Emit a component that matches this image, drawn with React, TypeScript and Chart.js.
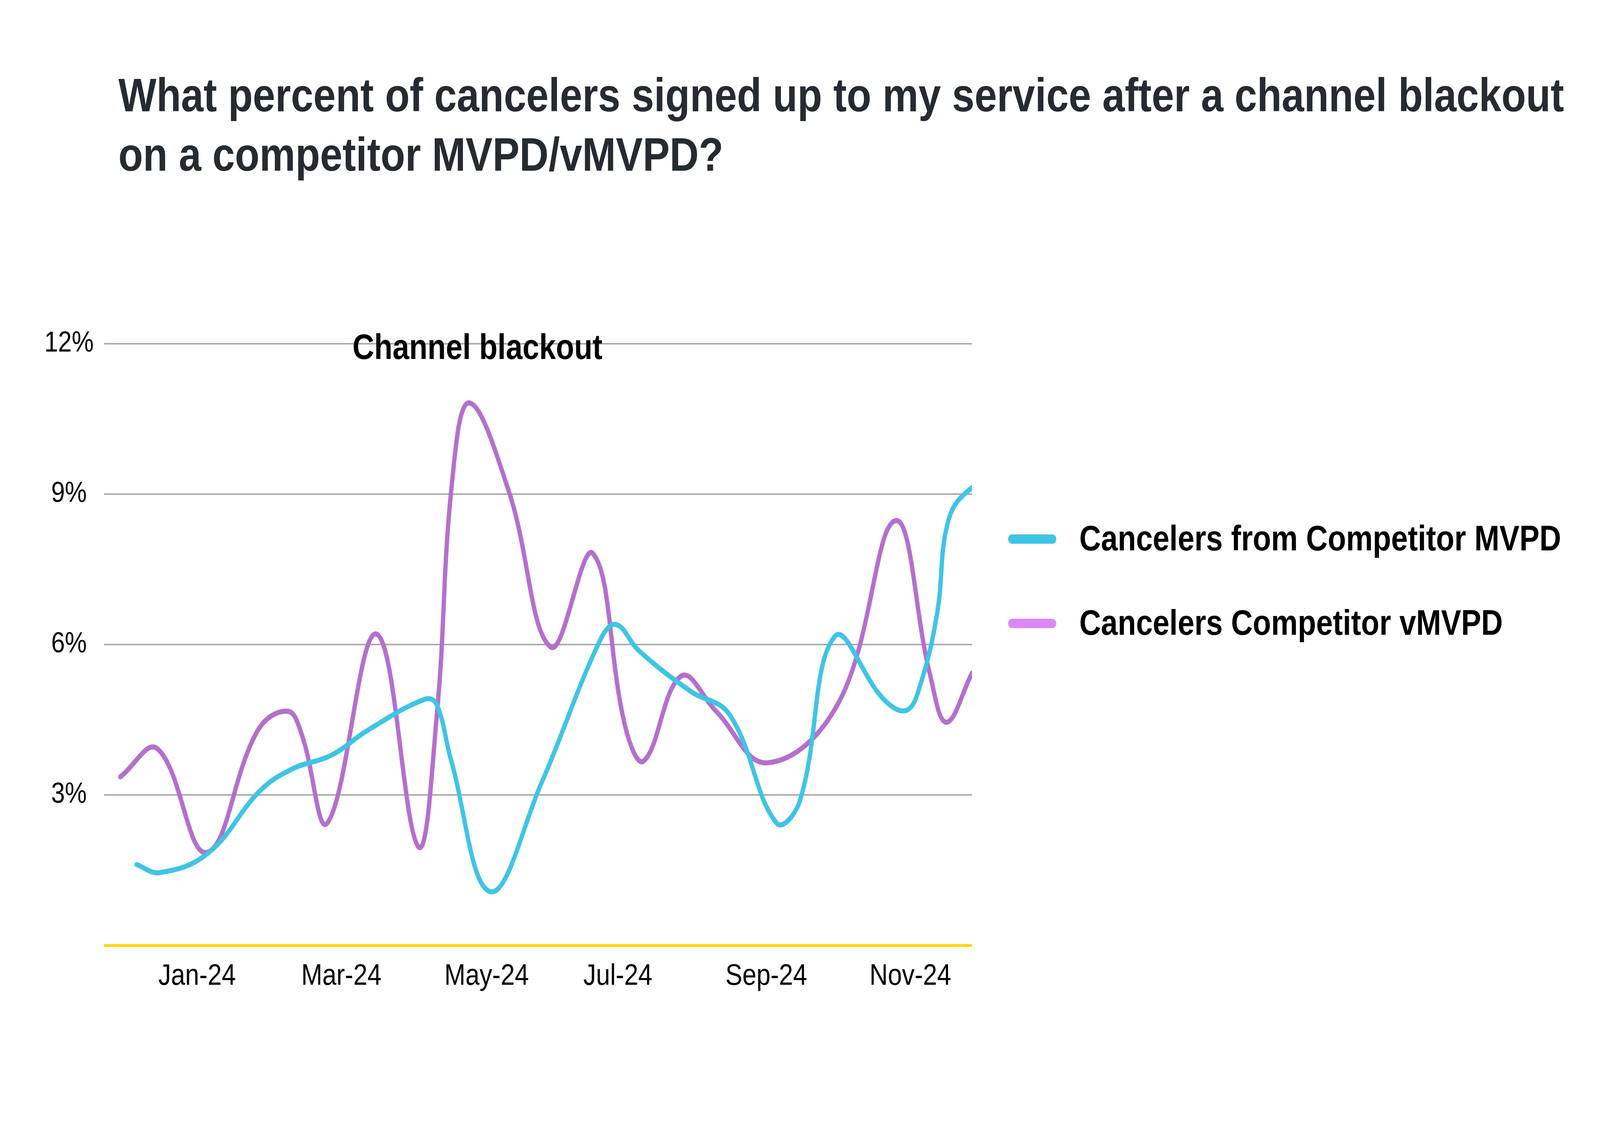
import React, { useEffect, useRef, useState } from 'react';
import { Chart, registerables } from 'chart.js';

Chart.register(...registerables);

// x values are days counted from 1 Jan 2024
const tickPositions = [-1, 61, 123.4, 179.8, 243.6, 305.5];
const tickLabels = ['Jan-24', 'Mar-24', 'May-24', 'Jul-24', 'Sep-24', 'Nov-24'];

const mvpdDays = [-27, -17, 4, 26, 40, 57, 72, 97, 102, 108, 125, 147, 172, 179, 189, 211, 228, 248, 258, 273, 294, 304, 310, 317, 322, 332, 340];
const mvpdValues = [1.61, 1.45, 1.85, 3.08, 3.52, 3.8, 4.28, 4.91, 4.8, 3.72, 1.07, 3.24, 6.07, 6.4, 5.87, 5.07, 4.59, 2.44, 2.88, 6.16, 4.91, 4.69, 5.23, 6.62, 8.5, 9.13, 9.15];

const vmvpdDays = [-34, -18, 3, 25, 38, 44, 55, 76, 94, 102, 108.5, 116, 133, 151, 169, 183, 191, 207, 222, 244, 275, 299, 314, 321, 332];
const vmvpdValues = [3.36, 3.92, 1.85, 4.28, 4.67, 4.2, 2.44, 6.21, 1.97, 4.59, 9.21, 10.82, 9.05, 5.95, 7.82, 4.36, 3.68, 5.37, 4.67, 3.64, 4.87, 8.47, 5.39, 4.45, 5.43];

const seriesNames = ['Cancelers from Competitor MVPD', 'Cancelers Competitor vMVPD'];
const lineColors = ['#40C4E4', '#B370CC'];
const swatchColors = ['#40C4E4', '#DD88FA'];

const annotationText = 'Channel blackout';
const annotationDay = 119.5;
const annotationValue = 11.7;

const FONT = '"Liberation Sans", Arial, sans-serif';
const W = 4800;
const H = 2880;

const App = () => {
  const canvasRef = useRef<HTMLCanvasElement>(null);
  const chartRef = useRef<Chart | null>(null);
  const getFit = () => ({ sx: window.innerWidth / W, sy: window.innerHeight / H });
  const [fit, setFit] = useState(getFit);

  useEffect(() => {
    const onResize = () => setFit(getFit());
    window.addEventListener('resize', onResize);
    return () => window.removeEventListener('resize', onResize);
  }, []);

  useEffect(() => {
    if (!canvasRef.current) return;
    if (chartRef.current) chartRef.current.destroy();

    // "Channel blackout" label above the chart
    const annotationPlugin = {
      id: 'blackoutLabel',
      afterDraw(chart: any) {
        const { ctx, scales } = chart;
        const x = scales.x.getPixelForValue(annotationDay);
        const y = scales.y.getPixelForValue(annotationValue);
        ctx.save();
        ctx.font = `bold 90px ${FONT}`;
        ctx.fillStyle = '#000000';
        ctx.textAlign = 'center';
        ctx.textBaseline = 'alphabetic';
        ctx.fillText(annotationText, x, y);
        ctx.restore();
      },
    };

    chartRef.current = new Chart(canvasRef.current, {
      type: 'line',
      data: {
        datasets: [
          {
            label: seriesNames[0],
            data: mvpdDays.map((d, i) => ({ x: d, y: mvpdValues[i] })),
            borderColor: lineColors[0],
            backgroundColor: lineColors[0],
            clip: 0,
          },
          {
            label: seriesNames[1],
            data: vmvpdDays.map((d, i) => ({ x: d, y: vmvpdValues[i] })),
            borderColor: lineColors[1],
            backgroundColor: lineColors[1],
            clip: 0,
          },
        ],
      },
      options: {
        responsive: false,
        devicePixelRatio: 1,
        animation: false,
        layout: { padding: { top: 880, left: 0, right: 1884, bottom: 260 } },
        elements: {
          line: { borderWidth: 13, tension: 0.4, borderCapStyle: 'round', borderJoinStyle: 'round' },
          point: { radius: 0, hoverRadius: 0 },
        },
        plugins: {
          legend: { display: false },
          tooltip: { enabled: false },
          title: { display: false },
        },
        scales: {
          x: {
            type: 'linear',
            min: -41,
            max: 332,
            afterBuildTicks: (s: any) => {
              s.ticks = tickPositions.map((v) => ({ value: v }));
            },
            afterFit: (s: any) => {
              s.height = 200;
            },
            grid: { display: false, drawTicks: false },
            border: { display: false },
            ticks: {
              autoSkip: false,
              maxRotation: 0,
              padding: 34,
              color: '#000000',
              font: { family: FONT, size: 76 },
              callback: (value: any) => {
                const i = tickPositions.indexOf(Number(value));
                return i >= 0 ? tickLabels[i] : '';
              },
            },
          },
          y: {
            min: 0,
            max: 12,
            afterFit: (s: any) => {
              s.width = 312;
            },
            grid: {
              drawTicks: false,
              color: (c: any) => (c.tick && c.tick.value === 0 ? '#FFD400' : '#ABABAB'),
              lineWidth: (c: any) => (c.tick && c.tick.value === 0 ? 7 : 4),
            },
            border: { display: false },
            ticks: {
              stepSize: 3,
              crossAlign: 'center',
              padding: 31,
              color: '#000000',
              font: { family: FONT, size: 74 },
              callback: (value: any) => (Number(value) === 0 ? '' : `${value}%`),
            },
          },
        },
      },
      plugins: [annotationPlugin],
    } as any);

    return () => {
      if (chartRef.current) {
        chartRef.current.destroy();
        chartRef.current = null;
      }
    };
  }, []);

  return (
    <div style={{ position: 'absolute', left: 0, top: 0, width: W * fit.sx, height: H * fit.sy, overflow: 'hidden', background: '#ffffff' }}>
      <div style={{ position: 'absolute', left: 0, top: 0, width: W, height: H, transform: `scale(${fit.sx}, ${fit.sy})`, transformOrigin: '0 0' }}>
        {/* title */}
        <div
          style={{
            position: 'absolute',
            left: 355,
            top: 167,
            fontFamily: FONT,
            fontWeight: 700,
            fontSize: 121,
            lineHeight: '152px',
            color: '#262B31',
            whiteSpace: 'nowrap',
          }}
        >
          What percent of cancelers signed up to my service after a channel blackout
          <br />
          on a competitor MVPD/vMVPD?
        </div>

        <canvas
          ref={canvasRef}
          width={W}
          height={H}
          style={{ position: 'absolute', left: 0, top: 0, width: W, height: H }}
        />

        {/* legend */}
        {seriesNames.map((name, i) => (
          <div key={name}>
            <div
              style={{
                position: 'absolute',
                left: 3024,
                top: 1368 + i * 216,
                width: 145,
                height: 24,
                borderRadius: 12,
                background: swatchColors[i],
              }}
            />
            <div
              style={{
                position: 'absolute',
                left: 3238,
                top: 1333 + i * 216,
                fontFamily: FONT,
                fontWeight: 700,
                fontSize: 90,
                lineHeight: '90px',
                color: '#000000',
                whiteSpace: 'nowrap',
              }}
            >
              {name}
            </div>
          </div>
        ))}
      </div>
    </div>
  );
};

export default App;
